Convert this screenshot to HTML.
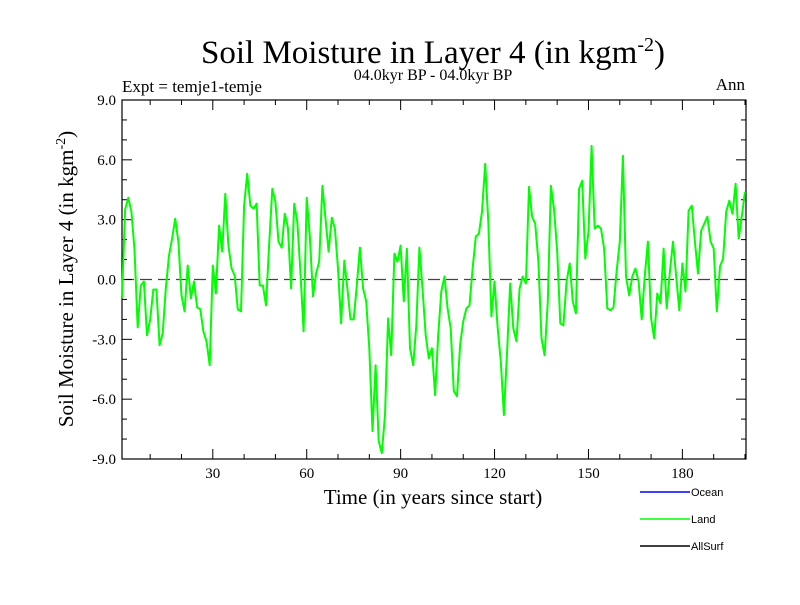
<!DOCTYPE html>
<html><head><meta charset="utf-8"><style>
body{margin:0;background:#fff}
svg text{font-family:"Liberation Serif",serif}
</style></head><body>
<svg id="chart" width="800" height="600" xmlns="http://www.w3.org/2000/svg">
<rect width="800" height="600" fill="#fff"/>
<text x="433" y="63" font-size="33" text-anchor="middle">Soil Moisture in Layer 4 (in kgm<tspan dy="-12" font-size="20">-2</tspan><tspan dy="12">)</tspan></text>
<text x="433" y="80" font-size="16" text-anchor="middle">04.0kyr BP - 04.0kyr BP</text>
<text x="122" y="92" font-size="17">Expt = temje1-temje</text>
<text x="745" y="90" font-size="17" text-anchor="end">Ann</text>
<text transform="translate(73,279) rotate(-90)" font-size="21" text-anchor="middle">Soil Moisture in Layer 4 (in kgm<tspan dy="-8" font-size="14">-2</tspan><tspan dy="8">)</tspan></text>
<text x="433" y="504" font-size="21" text-anchor="middle">Time (in years since start)</text>
<g id="axes"></g>
<g id="series"></g>
<g>
<line x1="640" y1="492" x2="690" y2="492" stroke="#0000ff" stroke-width="1.5"/>
<text x="691" y="496" font-size="11" style="font-family:'Liberation Sans',sans-serif">Ocean</text>
<line x1="640" y1="519" x2="690" y2="519" stroke="#00ff00" stroke-width="1.5"/>
<text x="691" y="523" font-size="11" style="font-family:'Liberation Sans',sans-serif">Land</text>
<line x1="640" y1="546" x2="690" y2="546" stroke="#000" stroke-width="1.5"/>
<text x="691" y="550" font-size="11" style="font-family:'Liberation Sans',sans-serif">AllSurf</text>
</g>
</svg>
<script>
const yTicks=[-9,-6,-3,0,3,6,9];
const yTickLabels=["-9.0","-6.0","-3.0","0.0","3.0","6.0","9.0"];
const xTicks=[30,60,90,120,150,180];
const xTickLabels=["30","60","90","120","150","180"];
const landValues=[
-0.95,3.5,4.1,3.4,1.5,-2.4,-0.3,-0.1,-2.8,-2.0,-0.5,-0.5,-3.3,-2.7,-0.45,1.2,2.05,3.05,1.9,-0.8,
-1.6,0.7,-0.95,-0.1,-1.4,-1.5,-2.6,-3.1,-4.3,0.7,-0.7,2.7,1.4,4.3,1.7,0.55,0.2,-1.5,-1.6,3.7,
5.3,3.7,3.55,3.8,-0.3,-0.3,-1.3,1.7,4.55,
3.9,1.9,1.6,3.3,2.6,-0.45,3.8,2.9,0.4,-2.6,4.1,2.2,-0.85,0.3,0.9,4.7,3.05,1.4,3.1,2.55,
0.55,-2.2,0.95,-0.45,-2.0,-2.0,-0.3,1.6,-0.45,-1.1,-3.45,-7.6,-4.3,-8.1,-8.7,-6.8,-1.95,-3.8,1.3,0.9,
1.7,-1.1,1.55,-3.45,-4.3,-2.3,1.6,-0.45,-2.8,-3.95,
-3.45,-5.8,-2.8,-0.6,0.15,-1.45,-2.45,-5.6,-5.85,-3.3,-2.1,-1.45,-1.3,0.55,2.15,2.3,3.4,5.8,2.9,-1.85,
-0.1,-2.45,-4.1,-6.8,-3.6,-0.2,-2.45,-3.1,-0.45,0.15,-0.2,4.65,3.15,2.8,0.9,-2.95,-3.8,-1.1,4.7,3.55,
1.4,-2.2,-2.3,-0.1,0.8,-1.1,-1.7,4.55,4.95,
1.05,2.4,6.7,2.55,2.7,2.55,1.55,-1.45,-1.55,-1.4,0.4,1.9,6.2,0.15,-0.8,0.15,0.55,-0.1,-2.0,0.2,
1.9,-1.95,-2.95,-0.7,-1.2,1.55,-1.45,0.4,1.9,0.2,-1.55,0.8,-0.6,3.45,3.7,1.9,0.3,2.45,2.8,3.15,
1.9,1.55,-1.6,0.65,1.05,3.4,3.95,3.3,4.8,2.05,3.2,4.4];
const X0=122,X1=746,Y0=100,Y1=459;
const xDomain=[1,200],yDomain=[-9,9];
function xs(t){return X0+(t-xDomain[0])*(X1-1-X0)/(xDomain[1]-xDomain[0]);}
function ys(v){return Y1-(v-yDomain[0])*(Y1-Y0)/(yDomain[1]-yDomain[0]);}
const NS="http://www.w3.org/2000/svg";
const axes=document.getElementById('axes');
function mk(tag,attrs,parent){const e=document.createElementNS(NS,tag);for(const k in attrs)e.setAttribute(k,attrs[k]);parent.appendChild(e);return e;}
let z=mk('line',{x1:X0,x2:X1,y1:ys(0),y2:ys(0),stroke:'#444','stroke-width':1.2,'stroke-dasharray':'12,6'},axes);


for(let v=yDomain[0];v<=yDomain[1];v++){
 const big=yTicks.includes(v);const L=big?10:5;
 let a=mk('line',{x1:X0,x2:X0+L,y1:ys(v),y2:ys(v),stroke:'#000','stroke-width':1},axes);
 
 
 let b=mk('line',{x1:X1-L,x2:X1,y1:ys(v),y2:ys(v),stroke:'#000','stroke-width':1},axes);
 
 
}
yTicks.forEach((v,i)=>{
 let t=mk('text',{x:X0-6,y:ys(v)+5,'font-size':15,'text-anchor':'end'},axes);
 t.textContent=yTickLabels[i];
 
 
});
for(let t=10;t<=200;t+=10){
 const big=xTicks.includes(t);const L=big?10:5;
 let a=mk('line',{x1:xs(t),x2:xs(t),y1:Y1,y2:Y1-L,stroke:'#000','stroke-width':1},axes);
 
 
 let b=mk('line',{x1:xs(t),x2:xs(t),y1:Y0,y2:Y0+L,stroke:'#000','stroke-width':1},axes);
 
 
}
xTicks.forEach((v,i)=>{
 let t=mk('text',{x:xs(v),y:Y1+19,'font-size':15,'text-anchor':'middle'},axes);
 t.textContent=xTickLabels[i];
 
 
});
let fr=mk('rect',{x:X0,y:Y0,width:X1-X0,height:Y1-Y0,fill:'none',stroke:'#000','stroke-width':1.2},axes);


const pts=landValues.map((v,i)=>xs(i+1).toFixed(1)+','+ys(v).toFixed(1)).join(' ');
let pl=mk('polyline',{points:pts,fill:'none',stroke:'#00ff00','stroke-width':2,'stroke-linejoin':'round'},document.getElementById('series'));


</script>
</body></html>
